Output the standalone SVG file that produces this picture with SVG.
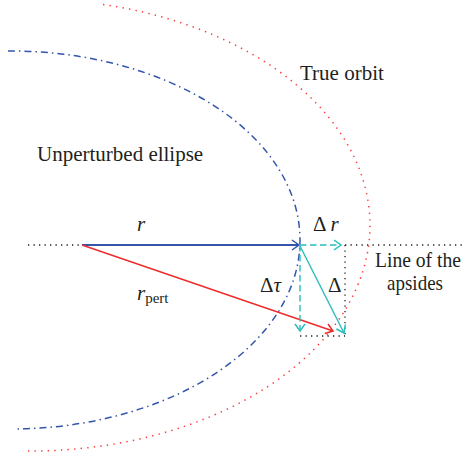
<svg xmlns="http://www.w3.org/2000/svg" width="466" height="461" viewBox="0 0 466 461">
<style>
.lbl{font-family:"Liberation Serif",serif;font-size:21px;fill:#231f20}
.it{font-style:italic}
.dot{fill:none;stroke:#231f20;stroke-width:1.3;stroke-dasharray:1.3 4.2}
.cy{fill:none;stroke:#2bbcbc;stroke-width:1.4}
.cyd{stroke-dasharray:6.5 3.5}
</style>
<defs>
<marker id="mBlue" viewBox="-9 -7 11 14" markerWidth="11" markerHeight="14" refX="0" refY="0" orient="auto" markerUnits="userSpaceOnUse"><path d="M-7,-5 L0,0 L-7,5" fill="none" stroke="#3355aa" stroke-width="1.5" stroke-dasharray="none"/></marker>
<marker id="mRed" viewBox="-9 -7 11 14" markerWidth="11" markerHeight="14" refX="0" refY="0" orient="auto" markerUnits="userSpaceOnUse"><path d="M-7,-5 L0,0 L-7,5" fill="none" stroke="#ee2b2b" stroke-width="1.5" stroke-dasharray="none"/></marker>
<marker id="mCyan" viewBox="-9 -7 11 14" markerWidth="11" markerHeight="14" refX="0" refY="0" orient="auto" markerUnits="userSpaceOnUse"><path d="M-7,-5 L0,0 L-7,5" fill="none" stroke="#2bbcbc" stroke-width="1.5" stroke-dasharray="none"/></marker>
</defs>
<rect width="466" height="461" fill="#ffffff"/>
<g id="unperturbed-ellipse">
<path d="M8,51 A290,189 0 0 1 300,240 A290,189 0 0 1 17,429" fill="none" stroke="#3355aa" stroke-width="1.5" stroke-dasharray="7 4 1.5 4"/>
</g>
<g id="true-orbit">
<path d="M103,4.5 A340,226 0 0 1 370,225 A340,226 0 0 1 25,451" fill="none" stroke="#ff3b3b" stroke-width="1.5" stroke-dasharray="1.4 5.2"/>
</g>
<g id="connectors">
<line x1="28" y1="245" x2="82" y2="245" class="dot"/>
<line x1="345" y1="245" x2="466" y2="245" class="dot"/>
<line x1="345" y1="245" x2="345" y2="336" class="dot"/>
<line x1="300" y1="336" x2="345" y2="336" class="dot"/>
<line x1="82" y1="245" x2="299" y2="245" stroke="#3355aa" stroke-width="1.8" marker-end="url(#mBlue)"/>
<line x1="82" y1="245" x2="333" y2="331" stroke="#ee2b2b" stroke-width="1.4" marker-end="url(#mRed)"/>
<line x1="300" y1="245" x2="341" y2="245" class="cy cyd" marker-end="url(#mCyan)"/>
<line x1="300" y1="245" x2="300" y2="331" class="cy cyd" marker-end="url(#mCyan)"/>
<line x1="300" y1="246" x2="344" y2="333" class="cy" marker-end="url(#mCyan)"/>
</g>
<g id="labels">
<text class="lbl" x="375" y="267" textLength="86" lengthAdjust="spacingAndGlyphs">Line of the</text>
<text class="lbl" x="387" y="290" textLength="56" lengthAdjust="spacingAndGlyphs">apsides</text>
<text class="lbl" x="300" y="80">True orbit</text>
<text class="lbl" x="37" y="161">Unperturbed ellipse</text>
<text class="lbl it" x="137" y="231">r</text>
<text class="lbl" x="137" y="300"><tspan class="it">r</tspan><tspan font-size="15" dy="3">pert</tspan></text>
<text class="lbl" x="313" y="231">Δ <tspan class="it">r</tspan></text>
<text class="lbl" x="260" y="292">Δ<tspan class="it">τ</tspan></text>
<text class="lbl" x="328" y="292">Δ</text>
</g>
</svg>
